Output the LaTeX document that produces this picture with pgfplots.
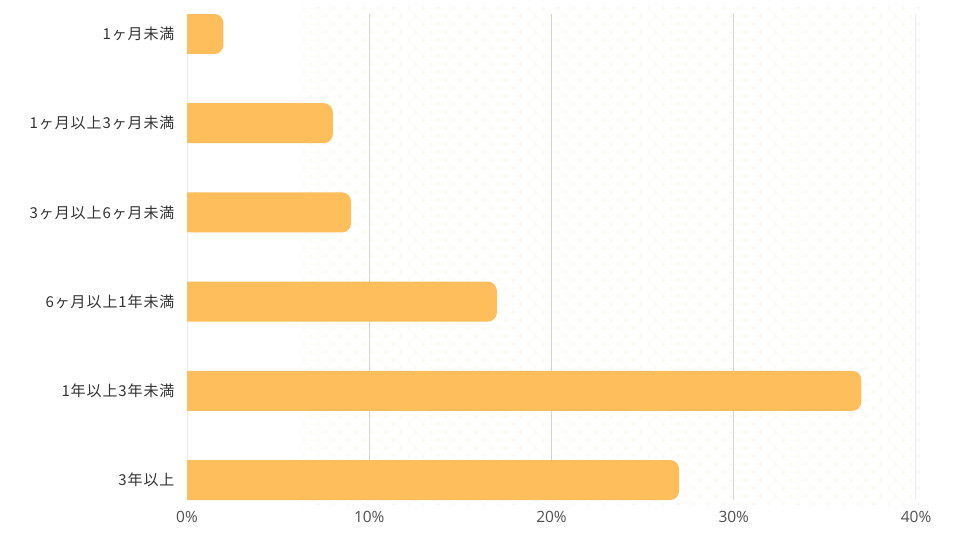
\documentclass[border=0pt]{standalone}
\usepackage{pgfplots}
\pgfplotsset{compat=1.18}
\usepackage{fontspec}
\setmainfont{Noto Sans CJK JP}
\newfontfamily\labfont[LetterSpace=6]{Noto Sans CJK JP}
\newfontfamily\tickfont{Open Sans}
\usetikzlibrary{patterns}
\pgfdeclarepatternformonly{mydots}{\pgfpointorigin}{\pgfpoint{15pt}{16.4pt}}{\pgfpoint{15pt}{16.4pt}}{%
  \pgfpathcircle{\pgfpoint{3.75pt}{4.1pt}}{1.5pt}%
  \pgfpathcircle{\pgfpoint{11.25pt}{12.3pt}}{1.5pt}%
  \pgfusepath{fill}}
\definecolor{barc}{RGB}{255,190,92}
\definecolor{gridc}{RGB}{212,212,212}
\definecolor{gridl}{RGB}{236,236,236}
\definecolor{dotc}{RGB}{255,243,226}
\definecolor{labc}{RGB}{50,50,50}
\definecolor{tickc}{RGB}{80,80,80}
\begin{document}
\begin{tikzpicture}[x=1pt,y=1pt]
\path[use as bounding box] (0,0) rectangle (960,540);
\fill[pattern=mydots, pattern color=dotc] (303,35) rectangle (920,532);
\begin{axis}[
  at={(187pt,40pt)}, anchor=south west,
  scale only axis, width=729pt, height=486pt,
  xbar, bar width=40pt,
  xmin=0, xmax=40,
  ymin=-0.2242, ymax=5.2242, y dir=reverse,
  ytick={0,1,2,3,4,5},
  yticklabels={1ヶ月未満,1ヶ月以上3ヶ月未満,3ヶ月以上6ヶ月未満,6ヶ月以上1年未満,1年以上3年未満,3年以上},
  xtick={0,10,20,30,40},
  xticklabels={0\%,10\%,20\%,30\%,40\%},
  axis line style={draw=none},
  tick style={draw=none},
  major tick length=0pt,
  yticklabel style={font=\labfont\fontsize{15}{17}\selectfont, text=labc, xshift=-9pt},
  xticklabel style={font=\tickfont\fontsize{15.5}{18}\selectfont, text=tickc, yshift=-8pt},
]
\draw[gridl, line width=1.2pt] (axis cs:0,-0.2242) -- (axis cs:0,5.2242);
\draw[gridc, line width=1.2pt] (axis cs:10,-0.2242) -- (axis cs:10,5.2242);
\draw[gridc, line width=1.2pt] (axis cs:20,-0.2242) -- (axis cs:20,5.2242);
\draw[gridc, line width=1.2pt] (axis cs:30,-0.2242) -- (axis cs:30,5.2242);
\draw[gridl, line width=1.2pt] (axis cs:40,-0.2242) -- (axis cs:40,5.2242);
\addplot[fill=barc, draw=none, bar shift=0pt, rounded corners=9pt] coordinates {
 (2,0) (8,1) (9,2) (17,3) (37,4) (27,5)};
\addplot[fill=barc, draw=none, bar shift=0pt] coordinates {
 (0.5,0) (0.5,1) (0.5,2) (0.5,3) (0.5,4) (0.5,5)};
\end{axis}
\end{tikzpicture}
\end{document}
